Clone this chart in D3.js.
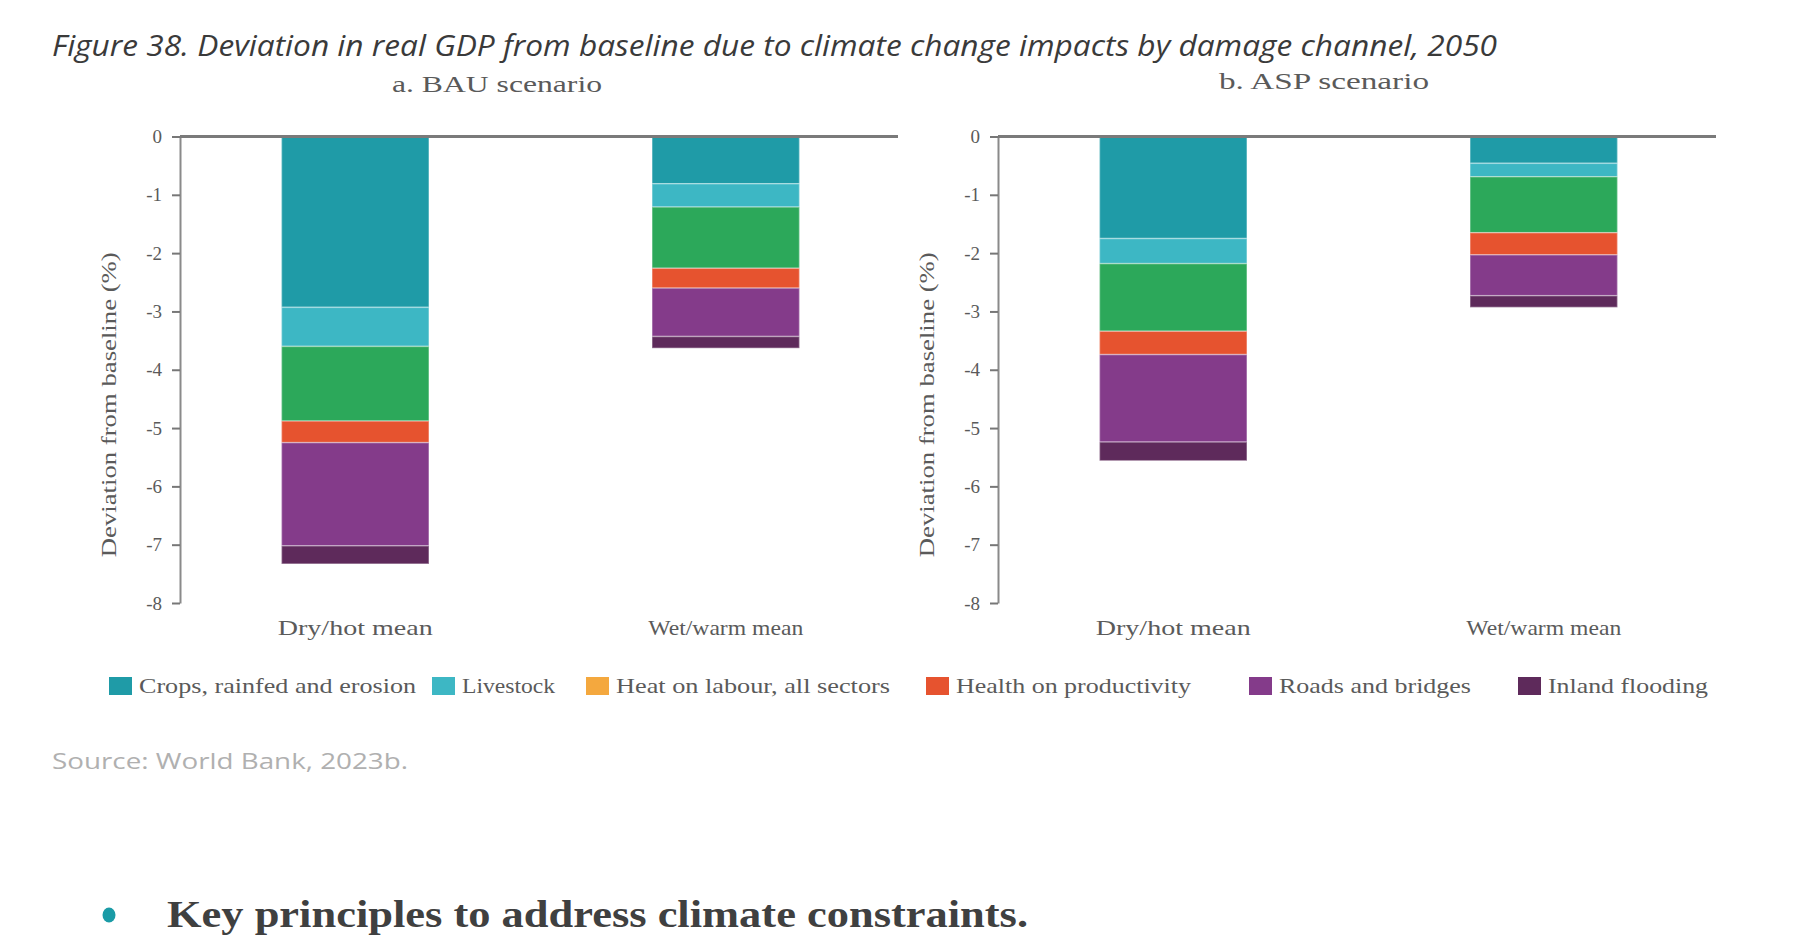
<!DOCTYPE html>
<html lang="en">
<head>
<meta charset="UTF-8">
<title>Figure 38</title>
<script src="https://d3js.org/d3.v7.min.js"></script>
<style>
    body { margin: 0; background: #fff; }
    svg { display: block; }
    .chartText { font-family: "Liberation Serif", serif; fill: #5a5a5a; }
</style>
</head>
<body>
<script>

    const width = 1801
    const height = 950

    // categories and series
    const categories = ["Dry/hot mean", "Wet/warm mean"]
    const seriesNames = ["Crops, rainfed and erosion", "Livestock", "Heat on labour, all sectors",
                         "Health on productivity", "Roads and bridges", "Inland flooding"]

    // values per scenario and category, in series order (% deviation)
    const bauDryHot   = [-2.93, -0.67, -1.28, -0.37, -1.77, -0.31]
    const bauWetWarm  = [-0.81, -0.40, -1.05, -0.34, -0.83, -0.20]
    const aspDryHot   = [-1.75, -0.43, -1.16, -0.40, -1.50, -0.32]
    const aspWetWarm  = [-0.46, -0.23, -0.96, -0.38, -0.70, -0.20]

    const yTicks = [0, -1, -2, -3, -4, -5, -6, -7, -8]

    const barColors    = ["#1f9ba7", "#3db7c4", "#2ca85a", "#e6532f", "#843b8a", "#5e2a5b"]
    const legendColors = ["#1f9ba7", "#3db7c4", "#f4a83e", "#e6532f", "#843b8a", "#5e2a5b"]

    let svg = d3.select("body").append("svg")
                .attr("width", width)
                .attr("height", height)

    // title
    svg.append("text")
        .attr("x", 52).attr("y", 56)
        .attr("textLength", 1445).attr("lengthAdjust", "spacingAndGlyphs")
        .style("font-family", "'Open Sans', sans-serif")
        .style("font-style", "italic")
        .style("font-size", "29px")
        .style("fill", "#3a3a3a")
        .text("Figure 38. Deviation in real GDP from baseline due to climate change impacts by damage channel, 2050")

    const panels = [
        {title: "a. BAU scenario", rows: [bauDryHot, bauWetWarm], x0: 180, titleX: 317, titleY: 92},
        {title: "b. ASP scenario", rows: [aspDryHot, aspWetWarm], x0: 998, titleX: 326, titleY: 89}
    ]

    const y = d3.scaleLinear().domain([0, -8]).range([136.5, 603])
    const x = d3.scaleBand().domain(categories).range([-10, 731]).paddingInner(0.602).paddingOuter(0.301)

    const stack = d3.stack()
                    .keys(d3.range(seriesNames.length))
                    .offset(d3.stackOffsetDiverging)

    panels.forEach(p => {
        let g = svg.append("g").attr("transform", `translate(${p.x0},0)`)

        g.append("text").attr("class", "chartText")
            .attr("x", p.titleX).attr("y", p.titleY)
            .attr("text-anchor", "middle")
            .attr("textLength", 210).attr("lengthAdjust", "spacingAndGlyphs")
            .style("font-size", "24px")
            .text(p.title)

        // y axis
        let yAxis = g.append("g")
            .call(d3.axisLeft(y).tickValues(yTicks).tickFormat(d => String(d))
                    .tickSize(8).tickPadding(10).tickSizeOuter(0))
        yAxis.select(".domain").attr("stroke", "#8a8a8a").attr("stroke-width", 2)
        yAxis.selectAll(".tick line").attr("stroke", "#777").attr("stroke-width", 2)
        yAxis.selectAll(".tick text")
            .attr("class", "chartText")
            .style("font-size", "19px")

        g.append("text").attr("class", "chartText")
            .attr("transform", `translate(-64,${y(-4.6)}) rotate(-90)`)
            .attr("text-anchor", "middle")
            .attr("textLength", 305).attr("lengthAdjust", "spacingAndGlyphs")
            .style("font-size", "21px")
            .text("Deviation from baseline (%)")

        // stacked bars
        let table = p.rows.map(r => Object.assign({}, r))
        let layers = stack(table)

        g.selectAll(".layer")
            .data(layers)
            .enter()
            .append("g")
            .attr("fill", (d, i) => barColors[i])
            .selectAll("rect")
            .data(d => d.map((v, j) => ({v: v, cat: categories[j]})))
            .enter()
            .append("rect")
            .attr("x", d => x(d.cat))
            .attr("width", x.bandwidth())
            .attr("y", d => y(d.v[1]))
            .attr("height", d => y(d.v[0]) - y(d.v[1]))
            .attr("stroke", "rgba(255,255,255,0.35)")
            .attr("stroke-width", 1.5)

        // zero line
        g.append("line")
            .attr("x1", 0).attr("x2", 718)
            .attr("y1", y(0)).attr("y2", y(0))
            .attr("stroke", "#7a7a7a").attr("stroke-width", 3)

        // category labels
        g.selectAll(".cat")
            .data(categories)
            .enter()
            .append("text").attr("class", "chartText")
            .attr("x", d => x(d) + x.bandwidth() / 2)
            .attr("y", 635)
            .attr("text-anchor", "middle")
            .attr("textLength", 155).attr("lengthAdjust", "spacingAndGlyphs")
            .style("font-size", "22px")
            .text(d => d)
    })

    // legend
    const legendX = [109, 432, 586, 926, 1249, 1518]
    const legendW = [277, 93, 274, 235, 192, 160]
    let legend = svg.selectAll(".legend")
        .data(seriesNames)
        .enter()
        .append("g")
        .attr("transform", (d, i) => `translate(${legendX[i]},677)`)

    legend.append("rect")
        .attr("width", 23).attr("height", 18)
        .attr("fill", (d, i) => legendColors[i])

    legend.append("text").attr("class", "chartText")
        .attr("x", 30).attr("y", 16)
        .attr("textLength", (d, i) => legendW[i]).attr("lengthAdjust", "spacingAndGlyphs")
        .style("font-size", "21px")
        .text(d => d)

    // source
    svg.append("text")
        .attr("x", 52).attr("y", 769)
        .attr("textLength", 356).attr("lengthAdjust", "spacingAndGlyphs")
        .style("font-family", "'Open Sans', sans-serif")
        .style("font-size", "22px")
        .style("fill", "#b0b0b0")
        .text("Source: World Bank, 2023b.")

    // bullet line
    svg.append("ellipse")
        .attr("cx", 109).attr("cy", 915)
        .attr("rx", 6.5).attr("ry", 7.5)
        .attr("fill", "#1a9ba6")

    svg.append("text")
        .attr("x", 167).attr("y", 927)
        .attr("textLength", 861).attr("lengthAdjust", "spacingAndGlyphs")
        .style("font-family", "'Liberation Serif', serif")
        .style("font-weight", "bold")
        .style("font-size", "38px")
        .style("fill", "#3f4040")
        .text("Key principles to address climate constraints.")

</script>
</body>
</html>
